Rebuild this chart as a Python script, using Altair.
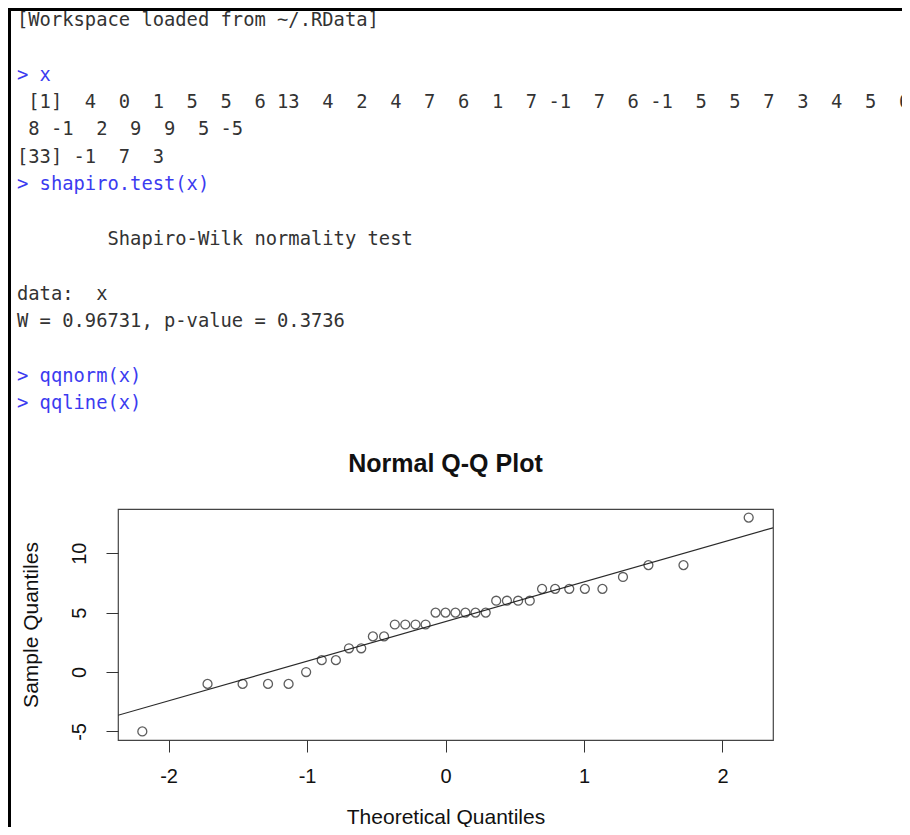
import altair as alt
import pandas as pd

# ---------------- data ----------------
x_values = [4, 0, 1, 5, 5, 6, 13, 4, 2, 4, 7, 6, 1, 7, -1, 7, 6, -1, 5, 5, 7, 3, 4, 5, 6,
            8, -1, 2, 9, 9, 5, -5, -1, 7, 3]

theoretical_quantiles = [-2.1894, -1.7185, -1.4652, -1.2816, -1.1332, -1.0064, -0.8938,
                         -0.7916, -0.6973, -0.6085, -0.5244, -0.4436, -0.3661, -0.2904,
                         -0.2164, -0.1437, -0.0717, 0.0, 0.0717, 0.1437, 0.2164, 0.2904,
                         0.3661, 0.4436, 0.5244, 0.6085, 0.6973, 0.7916, 0.8938, 1.0064,
                         1.1332, 1.2816, 1.4652, 1.7185, 2.1894]

qq_line_x = [-2.365, 2.365]
qq_line_y = [-3.64, 12.14]

x_ticks = [-2, -1, 0, 1, 2]
y_ticks = [-5, 0, 5, 10]

plot_title = "Normal Q-Q Plot"
x_title = "Theoretical Quantiles"
y_title = "Sample Quantiles"

console_lines = [
    ("[Workspace loaded from ~/.RData]", "out"),
    ("", "out"),
    ("> x", "cmd"),
    (" [1]  4  0  1  5  5  6 13  4  2  4  7  6  1  7 -1  7  6 -1  5  5  7  3  4  5  6", "out"),
    (" 8 -1  2  9  9  5 -5", "out"),
    ("[33] -1  7  3", "out"),
    ("> shapiro.test(x)", "cmd"),
    ("", "out"),
    ("        Shapiro-Wilk normality test", "out"),
    ("", "out"),
    ("data:  x", "out"),
    ("W = 0.96731, p-value = 0.3736", "out"),
    ("", "out"),
    ("> qqnorm(x)", "cmd"),
    ("> qqline(x)", "cmd"),
]

# ---------------- tables ----------------
W, H = 655, 231
pts = pd.DataFrame({"theo": theoretical_quantiles, "sample": sorted(x_values)})
line_df = pd.DataFrame({"theo": qq_line_x, "sample": qq_line_y})
# a zero-width char in front keeps the leading (non-breaking) spaces from being trimmed
console_df = pd.DataFrame([
    {"row": i, "text": "\u200b" + t.replace(" ", "\u00a0"), "kind": k}
    for i, (t, k) in enumerate(console_lines) if t
])

SANS = "Liberation Sans"
MONO = "DejaVu Sans Mono"

xscale = alt.Scale(domain=[-2.365, 2.365], nice=False, zero=False)
yscale = alt.Scale(domain=[-5.72, 13.72], nice=False, zero=False)

xaxis = alt.Axis(
    values=x_ticks, title=x_title, grid=False, domain=False,
    tickSize=12, tickColor="#333", tickWidth=1,
    labelFont=SANS, labelFontSize=20, labelColor="#111", labelPadding=14,
    labelBaseline="top", labelExpr="datum.value + ''", labelFlush=False, labelOverlap=False,
    titleFont=SANS, titleFontSize=21, titleFontWeight="normal", titleColor="#111",
    titleX=W / 2, titleY=77, titleBaseline="middle", titleAlign="center",
)
yaxis = alt.Axis(
    values=y_ticks, title=y_title, grid=False, domain=False,
    tickSize=12, tickColor="#333", tickWidth=1,
    labelFont=SANS, labelFontSize=20, labelColor="#111", labelPadding=17,
    labelAngle=270, labelAlign="center", labelBaseline="bottom",
    labelExpr="datum.value + ''", labelFlush=False, labelOverlap=False,
    titleFont=SANS, titleFontSize=21, titleFontWeight="normal", titleColor="#111",
    titleX=-87, titleY=H / 2, titleAngle=270, titleBaseline="middle", titleAlign="center",
)

points = alt.Chart(pts).mark_point(
    shape="circle", filled=False, size=80, strokeWidth=1.3, color="#1a1a1a"
).encode(
    x=alt.X("theo:Q", scale=xscale, axis=xaxis),
    y=alt.Y("sample:Q", scale=yscale, axis=yaxis),
)

qqline = alt.Chart(line_df).mark_line(color="#2a2a2a", strokeWidth=1.2, clip=True).encode(
    x=alt.X("theo:Q", scale=xscale),
    y=alt.Y("sample:Q", scale=yscale),
)

plot = alt.layer(qqline, points)

console = alt.Chart(console_df).mark_text(
    align="left", baseline="middle", font=MONO, fontSize=18.8
).encode(
    x=alt.value(-101),
    y=alt.Y("row:Q", scale=alt.Scale(domain=[0, 14], range=[-489, -106]), axis=None),
    text=alt.Text("text:N"),
    color=alt.Color("kind:N", scale=alt.Scale(domain=["cmd", "out"],
                                              range=["#3b3bf0", "#333333"]), legend=None),
)

title = alt.Chart(pd.DataFrame({"t": [plot_title]})).mark_text(
    font=SANS, fontWeight="bold", fontSize=25, align="center", baseline="alphabetic", color="#111"
).encode(x=alt.value(W / 2), y=alt.value(-37), text="t:N")

frame_df = pd.DataFrame({"a": [0]})
border_top = alt.Chart(frame_df).mark_rule(color="black", strokeWidth=3).encode(
    x=alt.value(-110), x2=alt.value(784), y=alt.value(-499.5)
)
border_left = alt.Chart(frame_df).mark_rule(color="black", strokeWidth=3).encode(
    x=alt.value(-108.5), y=alt.value(-501), y2=alt.value(318)
)

chart = alt.layer(border_top, border_left, console, title, plot).resolve_scale(
    y="independent"
).properties(
    width=W, height=H,
    padding={"left": 110, "top": 501, "right": 129, "bottom": 87},
    autosize=alt.AutoSizeParams(type="none"),
    background="white",
).configure_view(stroke="#444", strokeWidth=1.2)

chart.save("out.html", embed_options={"renderer": "svg", "actions": False})
